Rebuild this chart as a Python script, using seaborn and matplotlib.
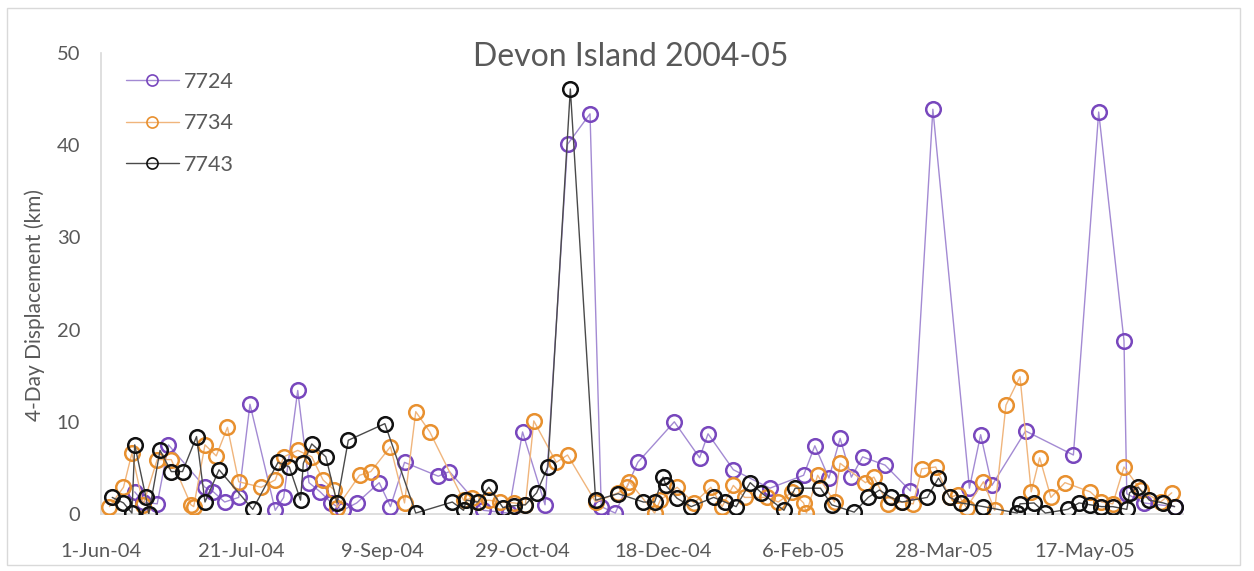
import matplotlib
matplotlib.use("Agg")
import matplotlib.pyplot as plt
import matplotlib.dates as mdates
from matplotlib.lines import Line2D
from matplotlib.patches import Rectangle
import numpy as np
import pandas as pd
import seaborn as sns

# Days since 1 June 2004 for each 4-day displacement record, per buoy
start = pd.Timestamp("2004-06-01")

days_7724 = [12, 15, 20, 24, 37, 40, 44, 49, 53, 62, 65, 70, 74, 78, 82, 86, 91, 99, 103, 108,
             120, 124, 136, 145, 150, 158, 166, 174, 178, 183, 191, 204, 213, 216, 225, 238, 250,
             254, 259, 263, 267, 271, 279, 288, 296, 309, 313, 317, 329, 346, 355, 364, 365, 371, 382]
disp_7724 = [2.4, 1.3, 1.1, 7.5, 2.9, 2.4, 1.3, 1.8, 11.9, 0.4, 1.8, 13.4, 3.4, 2.4, 1.2, 0.4, 1.2,
             3.4, 0.8, 5.6, 4.1, 4.6, 0.4, 0.1, 8.9, 1.0, 40.1, 43.4, 0.8, 0.1, 5.6, 10.0, 6.1, 8.7,
             4.8, 2.8, 4.2, 7.4, 3.9, 8.2, 4.0, 6.2, 5.3, 2.5, 43.9, 2.8, 8.6, 3.1, 9.0, 6.4, 43.6,
             18.8, 2.2, 1.2, 0.8]

days_7734 = [3, 8, 11, 15, 20, 25, 32, 33, 37, 41, 45, 49, 57, 62, 65, 70, 75, 79, 83, 84, 92, 96,
             103, 108, 112, 117, 129, 132, 134, 138, 142, 147, 151, 154, 162, 166, 176, 184, 187,
             188, 197, 199, 205, 211, 217, 221, 225, 229, 237, 241, 246, 250, 251, 255, 261, 263,
             272, 275, 280, 285, 289, 292, 297, 302, 305, 308, 314, 318, 322, 327, 331, 334, 338,
             343, 352, 356, 360, 364, 370, 377, 381]
disp_7734 = [0.8, 2.9, 6.6, 1.0, 5.9, 5.9, 1.0, 0.8, 7.5, 6.3, 9.4, 3.5, 2.9, 3.7, 6.2, 6.9, 6.2,
             3.7, 2.6, 0.7, 4.2, 4.6, 7.3, 1.2, 11.1, 8.9, 1.5, 1.7, 1.3, 1.5, 1.3, 1.2, 1.0, 10.1,
             5.6, 6.4, 1.3, 2.3, 2.9, 3.5, 0.1, 1.5, 2.9, 1.2, 2.9, 0.8, 3.1, 1.8, 1.8, 1.3, 2.4,
             1.2, 0.1, 4.2, 1.3, 5.5, 3.4, 4.0, 1.1, 1.3, 1.1, 4.9, 5.1, 1.8, 2.1, 0.7, 3.5, 0.4,
             11.8, 14.9, 2.4, 6.1, 1.8, 3.4, 2.4, 1.3, 1.1, 5.1, 2.6, 1.3, 2.3]

days_7743 = [4, 8, 11, 12, 16, 17, 21, 25, 29, 34, 37, 42, 54, 63, 67, 71, 72, 75, 80, 84, 88, 101,
             112, 125, 129, 130, 134, 138, 143, 147, 151, 155, 159, 167, 176, 184, 193, 197, 200,
             201, 205, 210, 218, 222, 226, 231, 235, 243, 247, 256, 260, 268, 273, 277, 281, 285,
             294, 298, 302, 306, 314, 326, 327, 332, 336, 344, 348, 352, 356, 360, 365, 366, 369,
             373, 378, 382]
disp_7743 = [1.8, 1.2, 0.1, 7.5, 1.8, 0.0, 6.9, 4.6, 4.6, 8.4, 1.3, 4.8, 0.5, 5.6, 5.1, 1.5, 5.5,
             7.6, 6.2, 1.2, 8.0, 9.8, 0.1, 1.3, 0.4, 1.5, 1.3, 2.9, 0.7, 0.9, 1.0, 2.3, 5.1, 46.1,
             1.5, 2.2, 1.3, 1.3, 4.0, 3.1, 1.7, 0.8, 1.8, 1.3, 0.8, 3.4, 2.3, 0.4, 2.8, 2.8, 1.0,
             0.2, 1.8, 2.6, 1.8, 1.3, 1.8, 3.9, 1.8, 1.2, 0.8, 0.1, 1.1, 1.2, 0.1, 0.5, 1.2, 1.0,
             0.8, 0.8, 0.5, 2.3, 2.9, 1.5, 1.2, 0.8]

buoy_names = ["7724", "7734", "7743"]
tick_step_days = 50
tick_count = 8

sns.set_theme(style="white")
plt.rcParams["font.family"] = ["Lato", "DejaVu Sans"]

TEXT = "#595959"
AXIS = "#d9d9d9"

series = [
    (buoy_names[0], days_7724, disp_7724, "#7847bd", "#a38ad3"),
    (buoy_names[1], days_7734, disp_7734, "#e8902f", "#f0b57c"),
    (buoy_names[2], days_7743, disp_7743, "#111111", "#4a4a4a"),
]

fig = plt.figure(figsize=(12.54, 5.71), dpi=100)
W, H = 1254, 571
x0, x1, y0, y1 = 101, 1183, 53, 514
ax = fig.add_axes([x0 / W, 1 - y1 / H, (x1 - x0) / W, (y1 - y0) / H])

for name, d, v, mcol, lcol in series:
    dates = start + pd.to_timedelta(np.asarray(d), unit="D")
    df = pd.DataFrame({"date": dates, "disp": v})
    sns.lineplot(data=df, x="date", y="disp", ax=ax, sort=False, estimator=None,
                 color=lcol, linewidth=1.0, marker="o", markersize=10.5,
                 markerfacecolor="none", markeredgecolor=mcol, markeredgewidth=1.8,
                 zorder=3)

ax.set_ylim(0, 50)
ax.set_yticks(range(0, 51, 10))
ax.set_xlim(mdates.date2num(start), mdates.date2num(start + pd.Timedelta(days=385)))
ticks = [start + pd.Timedelta(days=tick_step_days * i) for i in range(tick_count)]
ax.set_xticks([mdates.date2num(t) for t in ticks])
ax.set_xticklabels([f"{t.day}-{t.strftime('%b-%y')}" for t in ticks])

ax.tick_params(axis="x", length=0, pad=21, labelsize=14.5, labelcolor=TEXT)
ax.tick_params(axis="y", length=0, pad=15, labelsize=14.5, labelcolor=TEXT)
ax.set_xlabel("")
ax.set_ylabel("")
for s in ["top", "right"]:
    ax.spines[s].set_visible(False)
for s in ["left", "bottom"]:
    ax.spines[s].set_color(AXIS)
    ax.spines[s].set_linewidth(1.2)
ax.grid(False)
ax.set_facecolor("none")

fig.text(35 / W, 1 - 305 / H, "4-Day Displacement (km)", rotation=90,
         ha="center", va="center", fontsize=15, color=TEXT)
fig.text(631 / W, 1 - 57 / H, "Devon Island 2004-05", ha="center", va="center",
         fontsize=23, color=TEXT)

handles = [Line2D([], [], color=lcol, linewidth=1.0, marker="o", markersize=8,
                  markerfacecolor="none", markeredgecolor=mcol, markeredgewidth=1.2)
           for _, _, _, mcol, lcol in series]
leg = ax.legend(handles, buoy_names, loc="upper left", bbox_to_anchor=(0.009, 0.992),
                frameon=False, fontsize=15.5, handlelength=2.45, handletextpad=0.25,
                labelspacing=1.0, borderpad=0.2)
for t in leg.get_texts():
    t.set_color(TEXT)

fig.patches.append(Rectangle((7 / W, 1 - 565 / H), (1240 - 7) / W, (565 - 8) / H,
                             transform=fig.transFigure, fill=False,
                             edgecolor="#d9d9d9", linewidth=1.0))

fig.savefig("out.png", dpi=100, facecolor="white")
